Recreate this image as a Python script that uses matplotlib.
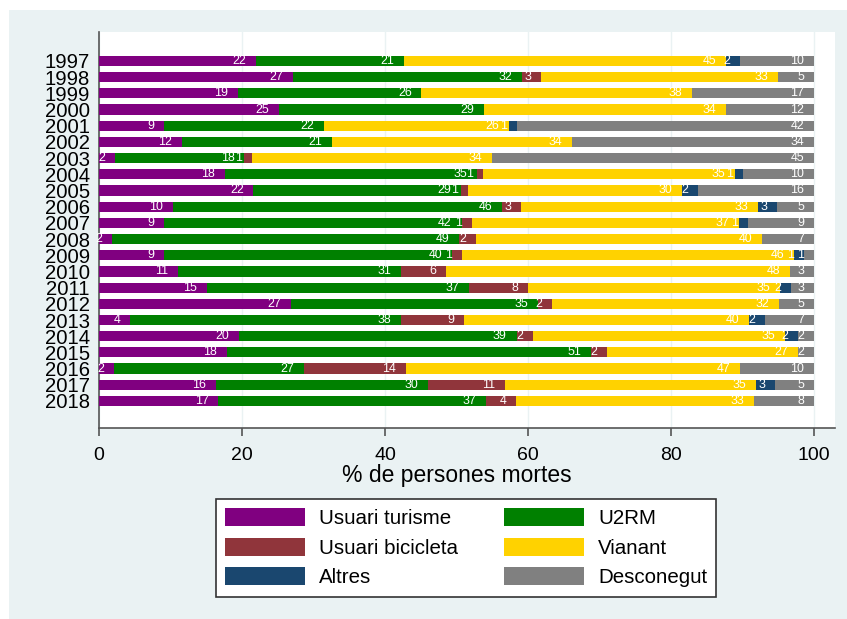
import matplotlib

matplotlib.use("Agg")
import matplotlib.pyplot as plt
from matplotlib.patches import Rectangle

# Dades: % de persones mortes per tipus d'usuari i any
anys = [str(a) for a in range(1997, 2019)]
turisme = [22.0, 27.1, 19.4, 25.2, 9.1, 11.6, 2.3, 17.6, 21.6, 10.3, 9.1,
           1.8, 9.1, 11.0, 15.1, 26.8, 4.4, 19.6, 17.9, 2.1, 16.3, 16.7]
u2rm = [20.6, 32.0, 25.7, 28.6, 22.4, 21.0, 18.0, 35.2, 29.0, 46.1, 41.6,
        48.6, 40.3, 31.2, 36.6, 34.6, 37.8, 38.8, 50.9, 26.6, 29.7, 37.4]
bicicleta = [0, 2.7, 0, 0, 0, 0, 1.1, 0.9, 1.0, 2.6, 1.4,
             2.3, 1.4, 6.3, 8.3, 2.0, 8.9, 2.3, 2.2, 14.2, 10.8, 4.2]
vianant = [45.1, 33.2, 37.8, 33.9, 25.8, 33.6, 33.6, 35.3, 30.0, 33.2, 37.4,
           40.0, 46.4, 48.2, 35.2, 31.7, 39.8, 35.2, 26.7, 46.8, 35.1, 33.3]
altres = [1.9, 0, 0, 0, 1.1, 0, 0, 1.0, 2.2, 2.6, 1.3,
          0, 1.4, 0, 1.6, 0, 2.3, 1.9, 0, 0, 2.7, 0]
desconegut = [10.4, 5.0, 17.1, 12.3, 41.6, 33.8, 45.0, 10.0, 16.2, 5.2, 9.2,
              7.3, 1.4, 3.3, 3.2, 4.9, 6.8, 2.2, 2.3, 10.3, 5.4, 8.4]

series = [
    ("Usuari turisme", turisme, "#800080"),
    ("U2RM", u2rm, "#008000"),
    ("Usuari bicicleta", bicicleta, "#90353B"),
    ("Vianant", vianant, "#FFD200"),
    ("Altres", altres, "#1A476F"),
    ("Desconegut", desconegut, "#808080"),
]

plt.rcParams["font.family"] = ["Liberation Sans", "DejaVu Sans"]

fig = plt.figure(figsize=(8.47, 6.19), dpi=100)
fig.patch.set_facecolor("white")
# Fons gris-blavós de la regió del gràfic (darrere dels eixos)
fig.add_artist(
    Rectangle((9 / 847, 0), 1, 1 - 10 / 619, transform=fig.transFigure,
              facecolor="#EAF2F3", edgecolor="none", zorder=-10)
)

ax = fig.add_axes([99 / 847, 1 - 428 / 619, 736 / 847, 396 / 619])
ax.set_facecolor("white")

pos = list(range(len(anys)))
left = [0.0] * len(anys)
handles = {}
for nom, vals, color in series:
    bars = ax.barh(pos, vals, left=left, height=0.63, color=color,
                   edgecolor="none", zorder=3, label=nom)
    handles[nom] = bars
    # Etiquetes blanques al final de cada segment
    for i, v in enumerate(vals):
        if round(v) > 0:
            ax.annotate(f"{round(v)}", xy=(left[i] + v, i), xytext=(-7, 0),
                        textcoords="offset points", ha="right", va="center",
                        color="white", fontsize=8.9, zorder=4)
    left = [l + v for l, v in zip(left, vals)]

ax.set_xlim(0, 736 / 7.15)
ax.set_ylim(22.67, -1.79)
ax.set_yticks(pos)
ax.set_yticklabels(anys, fontsize=14.6)
ax.tick_params(axis="y", length=0, pad=6.5)
ax.set_xticks([0, 20, 40, 60, 80, 100])
ax.tick_params(axis="x", labelsize=14, length=6, width=1.2, pad=8,
               color="#555555", direction="out")
ax.grid(axis="x", color="#EAF2F3", linewidth=1, zorder=0)

for s in ["top", "right"]:
    ax.spines[s].set_visible(False)
for s in ["left", "bottom"]:
    ax.spines[s].set_color("#555555")
    ax.spines[s].set_linewidth(1.2)

# Títol de l'eix x centrat sobre l'escala 0-100
ax.text(50 / (736 / 7.15), -0.12, "% de persones mortes", transform=ax.transAxes,
        ha="center", va="center", fontsize=16.5)

ordre = ["Usuari turisme", "Usuari bicicleta", "Altres", "U2RM", "Vianant", "Desconegut"]
leg = ax.legend([handles[n] for n in ordre], ordre, ncol=2, fontsize=14.8,
                loc="upper center", bbox_to_anchor=(466 / 847, 1 - 499 / 619),
                bbox_transform=fig.transFigure, frameon=True, fancybox=False,
                framealpha=1, handlelength=3.9, handleheight=0.97,
                labelspacing=0.46, handletextpad=0.7, columnspacing=2.2,
                borderpad=0.45, borderaxespad=0)
leg.get_frame().set_edgecolor("#333333")
leg.get_frame().set_facecolor("white")
leg.get_frame().set_linewidth(1.2)

plt.savefig("out.png", dpi=100, facecolor=fig.get_facecolor())
plt.close(fig)
